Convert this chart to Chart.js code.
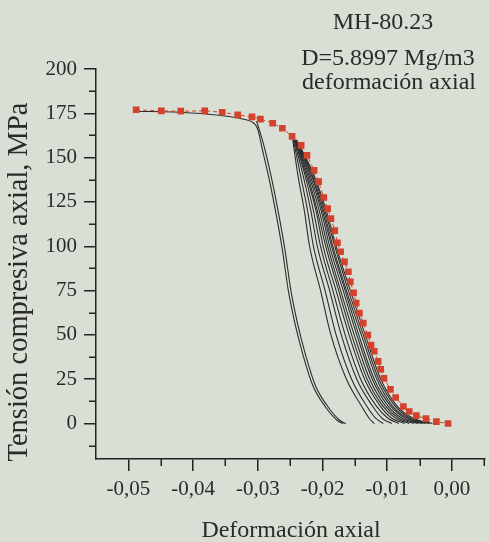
<!DOCTYPE html>
<html lang="es">
<head>
<meta charset="UTF-8">
<title>MH-80.23 deformación axial</title>
<script src="https://cdn.jsdelivr.net/npm/chart.js"></script>
<style>
  html, body { margin: 0; padding: 0; background: #d9dfd5; }
  canvas { display: block; }
</style>
</head>
<body>
<canvas id="grafico" width="489" height="542"></canvas>
<script>
// Ejes
const xMin = -0.055, xMax = 0.005;
const yMin = -20, yMax = 200;
const xTicks = [-0.05, -0.04, -0.03, -0.02, -0.01, 0];
const xMinor = [-0.045, -0.035, -0.025, -0.015, -0.005, 0.005];
const yTicks = [0, 25, 50, 75, 100, 125, 150, 175, 200];
const yMinor = [-12.5, 12.5, 37.5, 62.5, 87.5, 112.5, 137.5, 162.5, 187.5];

// Curva roja (marcadores cuadrados)
const redX = [-0.0488, -0.0449, -0.0419, -0.0382, -0.0355, -0.0331, -0.0309, -0.0296, -0.0277, -0.0262,
  -0.0247, -0.0233, -0.0224, -0.0213, -0.0206, -0.0198, -0.0192, -0.0187, -0.0181, -0.0177,
  -0.0172, -0.0166, -0.0160, -0.0157, -0.0152, -0.0148, -0.0143, -0.0137, -0.0130, -0.0125,
  -0.0120, -0.0114, -0.0110, -0.0105, -0.0095, -0.0087, -0.0075, -0.0066, -0.0055, -0.0040,
  -0.0024, -0.0006];
const redY = [177, 176.4, 176.2, 176.4, 175.6, 174.1, 173.0, 171.7, 169.4, 166.6,
  162.0, 156.9, 151.3, 142.8, 136.5, 127.5, 121.2, 115.6, 108.8, 102.0,
  96.9, 91.2, 85.6, 79.9, 73.7, 68.0, 62.3, 56.7, 49.9, 44.2,
  40.8, 35.1, 30.6, 25.5, 19.3, 14.7, 9.6, 6.8, 4.5, 2.8,
  1.1, 0];

// Par de curvas a la izquierda
const leftAX = [-0.0488, -0.0421, -0.0360, -0.0322, -0.0306, -0.0300, -0.0293, -0.0284, -0.0273, -0.0262,
  -0.0253, -0.0242, -0.0230, -0.0215, -0.0197, -0.0177, -0.0168];
const leftAY = [176.2, 175.6, 173.9, 171.7, 169.4, 166.0, 154.7, 140.5, 120.7, 98.0,
  75.4, 55.5, 38.5, 21.5, 10.2, 1.7, 0];
const leftBX = [-0.0302, -0.0297, -0.0289, -0.0280, -0.0269, -0.0258, -0.0249, -0.0238, -0.0226, -0.0211,
  -0.0193, -0.0173, -0.0164];
const leftBY = [170.5, 165, 154.7, 140.5, 120.7, 98.0, 75.4, 55.5, 38.5, 21.5, 10.2, 1.7, 0];

// Haz de curvas
const bunchY = [160, 140, 120, 100, 75, 50, 25, 10, 3, 0];
const bunchX = [
  [-0.0246, -0.0238, -0.0228, -0.0220, -0.0203, -0.0187, -0.0163, -0.0140, -0.0128, -0.0120],
  [-0.0245, -0.0234, -0.0223, -0.0214, -0.0196, -0.0179, -0.0155, -0.0132, -0.0118, -0.0106],
  [-0.0244, -0.0230, -0.0218, -0.0208, -0.0189, -0.0171, -0.0147, -0.0123, -0.0108, -0.0093],
  [-0.0243, -0.0227, -0.0214, -0.0203, -0.0184, -0.0165, -0.0141, -0.0117, -0.0099, -0.0082],
  [-0.0243, -0.0225, -0.0210, -0.0199, -0.0179, -0.0159, -0.0135, -0.0111, -0.0093, -0.0073],
  [-0.0242, -0.0223, -0.0208, -0.0195, -0.0175, -0.0155, -0.0131, -0.0107, -0.0087, -0.0066],
  [-0.0242, -0.0221, -0.0205, -0.0192, -0.0172, -0.0151, -0.0127, -0.0103, -0.0082, -0.0059],
  [-0.0241, -0.0219, -0.0202, -0.0189, -0.0168, -0.0147, -0.0123, -0.0099, -0.0077, -0.0052],
  [-0.0241, -0.0217, -0.0200, -0.0186, -0.0165, -0.0144, -0.0120, -0.0095, -0.0072, -0.0046],
  [-0.0241, -0.0216, -0.0198, -0.0184, -0.0163, -0.0140, -0.0116, -0.0092, -0.0068, -0.0041],
  [-0.0240, -0.0214, -0.0196, -0.0181, -0.0160, -0.0137, -0.0113, -0.0088, -0.0064, -0.0035],
  [-0.0240, -0.0213, -0.0194, -0.0179, -0.0157, -0.0134, -0.0110, -0.0085, -0.0060, -0.0030]
];

const serif = "'Liberation Serif', 'Times New Roman', serif";
const inkColor = '#2a2a2a';
const redColor = '#d4412d';
const curveColor = '#2c2c2c';

function pares(xs, ys) {
  return xs.map((x, i) => ({ x: x, y: ys[i] }));
}

function curvaNegra(xs, ys) {
  return {
    data: pares(xs, ys),
    borderColor: curveColor,
    borderWidth: 1.1,
    pointRadius: 0,
    cubicInterpolationMode: 'monotone',
    order: 1
  };
}

const datasets = [{
  data: pares(redX, redY),
  borderColor: redColor,
  borderWidth: 1,
  borderDash: [4, 3],
  pointStyle: 'rect',
  pointRadius: 4.7,
  pointBackgroundColor: redColor,
  pointBorderColor: redColor,
  pointBorderWidth: 0,
  order: 0
}];
datasets.push(curvaNegra(leftAX, leftAY));
datasets.push(curvaNegra(leftBX, leftBY));
bunchX.forEach(xs => datasets.push(curvaNegra(xs, bunchY)));

// Marcas menores y textos
const extras = {
  id: 'extras',
  afterDraw(chart) {
    const ctx = chart.ctx;
    const area = chart.chartArea;
    const sx = chart.scales.x, sy = chart.scales.y;
    ctx.save();
    ctx.strokeStyle = '#222';
    ctx.lineWidth = 1.5;
    ctx.beginPath();
    xMinor.forEach(v => {
      const px = Math.round(sx.getPixelForValue(v)) + 0.25;
      ctx.moveTo(px, area.bottom);
      ctx.lineTo(px, area.bottom + 7);
    });
    yMinor.forEach(v => {
      const py = Math.round(sy.getPixelForValue(v)) + 0.25;
      ctx.moveTo(area.left, py);
      ctx.lineTo(area.left - 7, py);
    });
    ctx.stroke();

    ctx.fillStyle = inkColor;
    ctx.font = '24px ' + serif;
    ctx.textAlign = 'center';
    ctx.textBaseline = 'alphabetic';
    ctx.fillText('MH-80.23', 383, 29);
    ctx.fillText('D=5.8997 Mg/m3', 388, 65);
    ctx.fillText('deformación axial', 389, 89);
    ctx.fillText('Deformación axial', 291, 537);

    ctx.font = '28.5px ' + serif;
    ctx.translate(27, 282);
    ctx.rotate(-Math.PI / 2);
    ctx.fillText('Tensión compresiva axial, MPa', 0, 0);
    ctx.restore();
  }
};

new Chart(document.getElementById('grafico'), {
  type: 'line',
  data: { datasets: datasets },
  options: {
    responsive: false,
    animation: false,
    layout: { padding: { top: 69, right: 0, left: 0, bottom: 0 } },
    plugins: { legend: { display: false }, tooltip: { enabled: false } },
    scales: {
      x: {
        type: 'linear',
        min: xMin,
        max: xMax,
        afterBuildTicks: scale => { scale.ticks = xTicks.map(v => ({ value: v })); },
        afterFit: scale => { scale.height = 83; },
        border: { display: true, color: '#222', width: 1.5 },
        grid: { drawOnChartArea: false, drawTicks: true, tickLength: 12, color: '#222', lineWidth: 1.5 },
        ticks: {
          color: inkColor,
          padding: 6,
          maxRotation: 0,
          font: { family: serif, size: 21 },
          callback: v => v.toFixed(2).replace('.', ',').replace('-0,00', '0,00')
        }
      },
      y: {
        type: 'linear',
        min: yMin,
        max: yMax,
        afterBuildTicks: scale => { scale.ticks = yTicks.map(v => ({ value: v })); },
        afterFit: scale => { scale.width = 96; },
        border: { display: true, color: '#222', width: 1.5 },
        grid: { drawOnChartArea: false, drawTicks: true, tickLength: 12, color: '#222', lineWidth: 1.5 },
        ticks: {
          color: inkColor,
          padding: 7,
          font: { family: serif, size: 21 },
          callback: v => String(v)
        }
      }
    }
  },
  plugins: [extras]
});
</script>
</body>
</html>
